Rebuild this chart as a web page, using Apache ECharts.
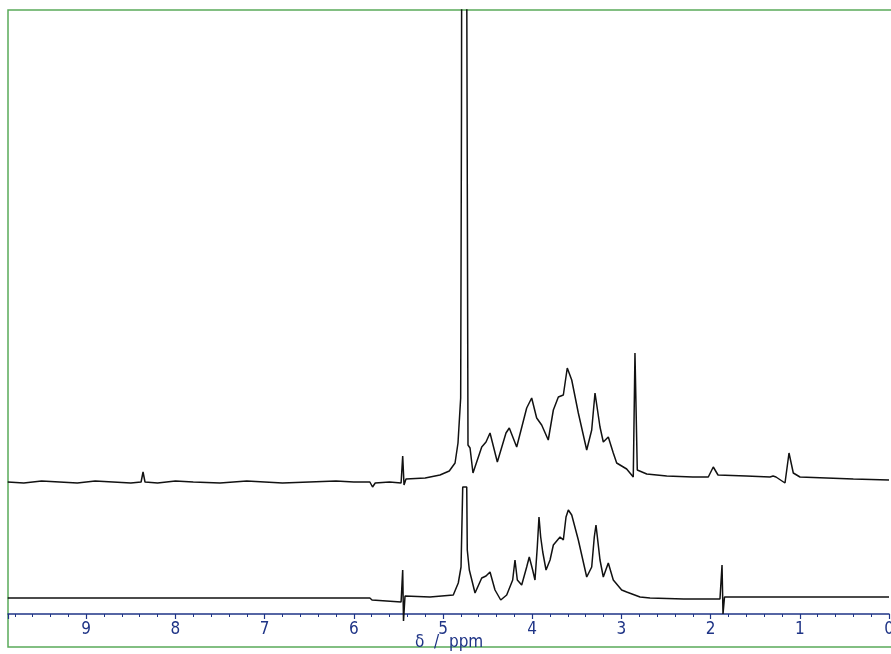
<!DOCTYPE html>
<html>
<head>
<meta charset="utf-8">
<script src="https://cdn.jsdelivr.net/npm/echarts@6/dist/echarts.min.js"></script>
<style>
  html, body { margin: 0; padding: 0; background: #fff; }
  #chart { width: 891px; height: 654px; }
</style>
</head>
<body>
<div id="chart"></div>
<script>
// chemical shift (ppm) and stacked intensity (arb.) for the upper spectrum
const upperPpm = [9.88, 9.7, 9.5, 9.3, 9.1, 8.9, 8.7, 8.5, 8.385, 8.363, 8.341, 8.2, 8.0, 7.8, 7.5, 7.2,
  7.0, 6.8, 6.5, 6.2, 6.0, 5.82, 5.79, 5.76, 5.6, 5.47,
  5.452, 5.437, 5.415, 5.2, 5.034, 4.93, 4.865, 4.832, 4.802, 4.793, 4.787, 4.742, 4.72, 4.697, 4.664,
  4.566, 4.518, 4.473, 4.391, 4.294, 4.257, 4.174, 4.062, 4.006, 3.95, 3.894, 3.82, 3.763, 3.707,
  3.651, 3.607, 3.557, 3.483, 3.389, 3.333, 3.296, 3.24, 3.203, 3.147, 3.091, 3.053, 2.941, 2.867,
  2.848, 2.822, 2.716, 2.492, 2.2, 2.026, 1.97, 1.917, 1.6, 1.334, 1.3, 1.267, 1.166, 1.121, 1.073,
  0.998, 0.7, 0.4, 0.0]
const upperVal = [132, 131, 133, 132, 131, 133, 132, 131, 132, 142, 132, 131, 133, 132, 131, 133,
  132, 131, 132, 133, 132, 132, 127, 131, 132, 131,
  158, 129, 135, 136, 139, 143, 151, 171, 216, 500, 900, 900, 169, 166, 141,
  167, 172, 181, 152, 181, 186, 167, 206, 216, 196, 189, 174, 204, 217,
  219, 246, 234, 201, 164, 184, 221, 187, 172, 177, 161, 151, 145, 137,
  261, 144, 140, 138, 137, 137, 147, 139, 138, 137, 138, 137, 131, 161, 141,
  137, 136, 135, 134]

// lower spectrum
const lowerPpm = [9.88, 9.0, 8.0, 7.0, 6.0, 5.82, 5.796, 5.47, 5.452, 5.443, 5.426, 5.146, 4.885,
  4.829, 4.798, 4.779, 4.734, 4.728, 4.705, 4.641, 4.566, 4.518, 4.473, 4.417, 4.353, 4.286, 4.219,
  4.193, 4.167, 4.118, 4.062, 4.033, 3.995, 3.969, 3.943, 3.924, 3.905, 3.882, 3.845, 3.8, 3.763,
  3.688, 3.651, 3.621, 3.595, 3.557, 3.483, 3.389, 3.333, 3.304, 3.285, 3.24, 3.203, 3.147, 3.091,
  2.997, 2.941, 2.791, 2.679, 2.3, 1.895, 1.872, 1.861, 1.844, 1.5, 1.0, 0.5, 0.0]
const lowerVal = [16, 16, 16, 16, 16, 16, 14, 12, 44, -7, 18, 17, 19,
  31, 47, 127, 127, 64, 44, 21, 36, 38, 42, 24, 14, 19, 34,
  54, 34, 29, 47, 57, 44, 34, 67, 97, 77, 62, 44, 54, 69,
  77, 74, 97, 104, 99, 74, 37, 47, 77, 89, 54, 37, 51, 34,
  24, 22, 17, 16, 15, 15, 49, 0, 17, 17, 17, 17, 17]

const axisTitle = 'δ  /  ppm'
const axisColor = '#1f3486'
const labelFont = 'DejaVu Sans Condensed, Liberation Sans Narrow, Liberation Sans, sans-serif'

const chart = echarts.init(document.getElementById('chart'))
const toPairs = (xs, ys) => xs.map((x, i) => [x, ys[i]])

const option = {
  animation: false,
  grid: { left: 8, right: 2, top: 10, height: 604, outerBoundsMode: 'none', containLabel: false },
  graphic: [
    {
      type: 'rect',
      shape: { x: 8, y: 10, width: 900, height: 637 },
      style: { fill: 'none', stroke: '#5aab5a', lineWidth: 1.5 },
      z: 0,
    },
    {
      // axis title sits over the frame line, like the original
      type: 'text',
      left: 415,
      top: 634,
      style: { text: axisTitle, fill: axisColor, fontSize: 17, fontFamily: labelFont },
      z: 10,
    },
  ],
  xAxis: {
    type: 'value',
    inverse: true,
    min: 0,
    max: 9.877,
    interval: 1,
    axisLine: { onZero: false, lineStyle: { color: axisColor, width: 1.5 } },
    axisTick: { length: 5, lineStyle: { color: axisColor, width: 1.2 } },
    minorTick: { show: true, splitNumber: 5, length: 3, lineStyle: { color: axisColor, width: 1 } },
    axisLabel: {
      margin: 7,
      color: axisColor,
      fontSize: 17,
      fontFamily: labelFont,
      showMaxLabel: false,
    },
    splitLine: { show: false },
  },
  yAxis: {
    type: 'value',
    min: 0,
    max: 604,
    show: false,
  },
  series: [
    {
      type: 'line',
      data: toPairs(upperPpm, upperVal),
      symbol: 'none',
      clip: true,
      lineStyle: { color: '#111', width: 1.5 },
    },
    {
      type: 'line',
      data: toPairs(lowerPpm, lowerVal),
      symbol: 'none',
      clip: false,
      lineStyle: { color: '#111', width: 1.5 },
    },
  ],
}
chart.setOption(option)
</script>
</body>
</html>
